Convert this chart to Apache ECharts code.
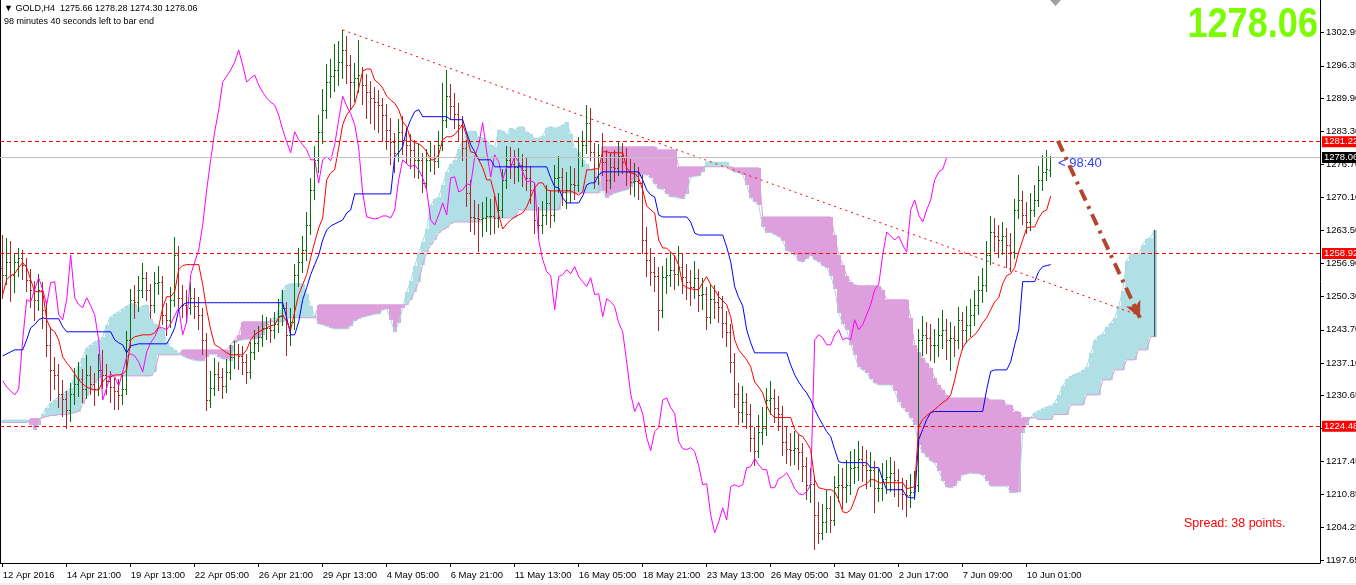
<!DOCTYPE html>
<html><head><meta charset="utf-8">
<script src="https://cdn.jsdelivr.net/npm/echarts@6/dist/echarts.min.js"></script>
<style>html,body{margin:0;padding:0;background:#fff;overflow:hidden}#c{width:1356px;height:585px}</style>
</head><body><div id="c"></div>
<script>
// ---------- DATA (GOLD, H4) ----------
const timeTickBars = [0,16,32,48,64,80,96,112,128,144,160,176,192,208,224,240,256];
const timeLabels = ['12 Apr 2016','14 Apr 21:00','19 Apr 13:00','22 Apr 05:00','26 Apr 21:00','29 Apr 13:00','4 May 05:00','6 May 21:00','11 May 13:00','16 May 05:00','18 May 21:00','23 May 13:00','26 May 05:00','31 May 01:00','2 Jun 17:00','7 Jun 09:00','10 Jun 01:00'];
const priceTicks = [1302.95,1296.35,1289.90,1283.30,1276.70,1270.10,1263.50,1256.90,1250.30,1243.70,1237.10,1230.65,1224.05,1217.45,1210.85,1204.25,1197.65];

const opens = [
1256.0,1254.7,1257.2,1254.7,1257.2,1258.1,1256.7,1253.7,1251.7,1249.7,
1251.7,1247.7,1240.7,1235.7,1234.7,1230.8,1229.8,1227.8,1230.8,1232.8,
1233.8,1231.8,1234.7,1232.8,1231.8,1235.7,1234.7,1233.5,1232.3,1231.5,
1230.7,1231.9,1241.7,1249.7,1249.3,1251.7,1254.1,1251.7,1248.7,1253.1,
1253.3,1246.7,1245.7,1249.7,1258.6,1250.1,1248.7,1248.1,1250.1,1248.5,
1246.7,1241.7,1229.7,1232.1,1234.9,1234.3,1232.5,1235.3,1238.3,1238.9,
1238.5,1237.3,1235.3,1239.3,1241.1,1242.3,1244.1,1244.1,1243.7,1244.9,
1246.5,1248.1,1242.7,1245.3,1254.7,1257.2,1259.6,1264.6,1271.6,1277.6,
1283.2,1287.5,1293.1,1294.3,1295.5,1297.1,1299.5,1296.5,1293.1,1293.9,
1294.5,1292.5,1291.1,1289.9,1289.1,1288.5,1286.5,1283.6,1281.2,1279.0,
1283.2,1281.6,1280.6,1279.6,1277.6,1277.6,1273.0,1277.6,1278.2,1277.4,
1280.6,1285.6,1290.3,1288.3,1286.8,1284.6,1280.0,1271.0,1266.2,1266.0,
1265.8,1266.0,1266.4,1266.4,1266.0,1267.6,1273.6,1277.6,1276.8,1276.2,
1276.6,1275.6,1274.0,1271.6,1265.6,1264.6,1266.6,1269.0,1266.6,1274.0,
1274.2,1271.2,1271.6,1272.8,1272.6,1278.2,1280.6,1285.0,1279.2,1274.2,
1278.6,1277.2,1273.6,1276.2,1276.0,1278.4,1277.2,1275.2,1273.2,1273.4,
1273.0,1261.6,1257.7,1255.3,1254.5,1247.7,1254.3,1254.7,1255.7,1254.9,
1256.3,1254.3,1253.3,1252.3,1254.1,1250.7,1250.9,1246.3,1249.9,1249.3,
1248.3,1245.1,1243.3,1237.3,1230.9,1227.4,1229.2,1227.0,1222.2,1219.6,
1223.4,1224.2,1229.7,1230.1,1228.2,1227.0,1221.4,1220.0,1219.8,1220.2,
1219.4,1216.6,1212.8,1213.0,1206.8,1203.2,1205.4,1208.2,1205.8,1212.4,
1212.8,1212.4,1212.8,1216.2,1216.4,1218.0,1216.8,1215.8,1215.8,1212.2,
1212.2,1214.0,1214.4,1215.2,1213.8,1212.0,1211.0,1210.8,1211.4,1212.8,
1241.7,1242.7,1242.1,1240.7,1240.7,1242.7,1243.7,1241.7,1242.1,1241.7,
1245.7,1243.7,1244.7,1246.7,1248.7,1251.7,1252.7,1258.6,1263.2,1262.4,
1261.6,1262.4,1260.6,1259.2,1267.6,1269.6,1266.6,1265.2,1267.6,1269.6,
1273.6,1275.2,1275.66];
const highs = [
1262.6,1262.0,1261.5,1259.0,1260.1,1259.6,1258.0,1255.8,1253.5,1254.9,
1253.2,1249.5,1244.2,1238.3,1236.8,1233.7,1231.4,1233.1,1236.0,1237.3,
1235.9,1238.6,1236.5,1235.0,1238.9,1239.6,1236.9,1235.4,1234.1,1233.8,
1234.6,1243.5,1251.8,1252.6,1254.4,1257.0,1255.3,1252.9,1255.2,1256.4,
1254.5,1249.0,1252.3,1262.2,1260.4,1252.7,1251.6,1253.3,1252.0,1250.2,
1248.1,1243.0,1235.5,1238.0,1237.2,1236.0,1237.9,1240.6,1241.5,1240.8,
1240.4,1238.9,1241.2,1243.6,1244.5,1246.7,1246.2,1246.0,1247.3,1249.8,
1251.6,1249.3,1248.0,1256.8,1260.1,1262.5,1267.1,1274.0,1280.3,1286.5,
1291.8,1296.7,1297.8,1300.6,1301.2,1303.5,1302.2,1298.6,1297.0,1301.5,
1296.2,1294.8,1293.4,1292.2,1291.6,1290.0,1288.8,1285.9,1283.0,1285.7,
1286.4,1284.0,1282.8,1281.5,1280.7,1279.0,1279.8,1281.3,1280.5,1283.3,
1292.9,1295.5,1292.7,1291.0,1288.9,1286.4,1281.6,1273.5,1269.5,1268.7,
1269.2,1270.1,1269.8,1270.3,1271.0,1275.8,1280.4,1280.2,1279.5,1279.9,
1278.8,1277.9,1276.3,1273.0,1268.2,1269.4,1272.5,1271.6,1276.5,1278.4,
1276.0,1275.1,1276.4,1275.9,1282.2,1283.4,1288.5,1287.9,1281.0,1280.8,
1282.9,1279.5,1279.0,1279.6,1281.2,1280.9,1280.0,1277.7,1276.9,1276.2,
1274.5,1264.2,1260.0,1258.3,1256.2,1256.5,1258.0,1259.3,1258.6,1260.5,
1258.9,1256.8,1255.7,1257.4,1255.9,1254.1,1252.3,1252.8,1252.6,1251.5,
1250.4,1247.5,1244.8,1239.1,1233.0,1232.5,1231.0,1228.9,1224.4,1226.8,
1228.3,1232.0,1233.4,1231.8,1230.4,1228.6,1224.5,1223.1,1223.6,1223.0,
1221.2,1218.4,1216.1,1214.5,1209.3,1208.9,1211.8,1210.5,1214.6,1216.9,
1216.2,1217.7,1219.6,1219.9,1221.5,1220.6,1219.8,1219.4,1217.6,1216.0,
1217.1,1217.8,1218.4,1217.6,1215.9,1214.2,1213.8,1215.0,1215.6,1243.8,
1246.5,1245.3,1244.9,1243.8,1246.0,1247.6,1245.9,1245.3,1244.5,1248.2,
1247.3,1248.5,1249.9,1251.6,1254.4,1256.1,1261.5,1266.3,1265.9,1264.5,
1265.1,1263.9,1263.0,1269.8,1274.5,1271.4,1269.2,1271.0,1272.6,1276.3,
1278.5,1279.6,1278.28];
const lows = [
1250.0,1252.8,1249.5,1251.3,1254.5,1253.8,1251.5,1248.2,1245.7,1247.6,
1244.0,1238.5,1229.6,1231.9,1228.3,1226.5,1224.2,1225.6,1228.9,1230.4,
1229.2,1230.0,1230.9,1228.7,1230.6,1232.0,1230.8,1229.2,1227.9,1228.0,
1228.8,1230.9,1240.3,1246.1,1247.5,1250.2,1249.6,1246.0,1247.3,1250.8,
1244.9,1242.6,1244.2,1248.4,1248.3,1246.2,1245.5,1246.8,1246.1,1243.8,
1238.9,1227.8,1228.4,1230.6,1231.7,1230.1,1231.2,1233.8,1236.0,1235.9,
1234.8,1233.0,1234.1,1237.8,1239.4,1240.5,1241.8,1241.2,1242.0,1243.2,
1244.7,1238.6,1240.6,1243.9,1252.4,1255.3,1257.7,1262.9,1269.8,1275.1,
1281.0,1285.9,1290.2,1291.4,1292.6,1294.0,1292.9,1287.7,1289.4,1291.1,
1288.7,1286.0,1284.9,1283.8,1283.2,1281.4,1279.7,1276.8,1275.2,1277.3,
1278.7,1277.0,1275.9,1274.2,1273.9,1271.2,1271.8,1275.4,1274.8,1276.1,
1279.5,1284.2,1285.7,1284.0,1281.3,1277.5,1268.4,1263.5,1262.8,1259.4,
1262.5,1263.4,1262.9,1263.1,1264.2,1266.1,1271.9,1274.0,1272.9,1273.3,
1272.4,1271.5,1268.9,1263.1,1262.0,1263.0,1264.8,1264.1,1265.3,1271.1,
1268.6,1268.0,1269.2,1269.7,1271.4,1276.3,1278.9,1277.6,1271.9,1272.8,
1274.6,1271.1,1272.0,1273.4,1274.5,1274.9,1272.6,1270.8,1270.4,1269.7,
1259.0,1254.4,1252.6,1251.4,1243.7,1246.2,1251.1,1252.4,1251.8,1252.7,
1251.0,1249.9,1248.6,1250.0,1247.5,1247.8,1243.9,1245.0,1246.1,1245.2,
1242.3,1240.4,1235.2,1228.4,1224.9,1225.3,1224.1,1219.5,1216.7,1218.4,
1221.0,1222.8,1226.9,1225.4,1223.7,1218.8,1217.2,1216.8,1217.0,1215.9,
1213.5,1210.0,1209.4,1200.0,1201.1,1201.9,1203.3,1203.4,1204.7,1209.6,
1208.1,1209.3,1211.0,1213.1,1213.8,1213.6,1212.2,1212.5,1207.4,1209.5,
1209.8,1211.1,1211.6,1210.5,1208.6,1207.9,1206.5,1208.3,1209.9,1211.6,
1238.6,1239.0,1237.7,1237.2,1238.5,1240.1,1237.8,1235.6,1238.4,1240.0,
1239.9,1241.3,1242.5,1244.6,1246.9,1249.3,1251.4,1256.8,1259.4,1258.3,
1258.9,1256.2,1255.5,1258.0,1265.9,1264.7,1263.0,1263.6,1266.4,1268.4,
1271.6,1273.5,1274.30];
const closes = [
1254.7,1257.2,1254.7,1257.2,1258.1,1256.7,1253.7,1251.7,1249.7,1251.7,
1247.7,1240.7,1235.7,1234.7,1230.8,1229.8,1227.8,1230.8,1232.8,1233.8,
1231.8,1234.7,1232.8,1231.8,1235.7,1234.7,1233.5,1232.3,1231.5,1230.7,
1231.9,1241.7,1249.7,1249.3,1251.7,1254.1,1251.7,1248.7,1253.1,1253.3,
1246.7,1245.7,1249.7,1258.6,1250.1,1248.7,1248.1,1250.1,1248.5,1246.7,
1241.7,1229.7,1232.1,1234.9,1234.3,1232.5,1235.3,1238.3,1238.9,1238.5,
1237.3,1235.3,1239.3,1241.1,1242.3,1244.1,1244.1,1243.7,1244.9,1246.5,
1248.1,1242.7,1245.3,1254.7,1257.2,1259.6,1264.6,1271.6,1277.6,1283.2,
1287.5,1293.1,1294.3,1295.5,1297.1,1299.5,1296.5,1293.1,1293.9,1294.5,
1292.5,1291.1,1289.9,1289.1,1288.5,1286.5,1283.6,1281.2,1279.0,1283.2,
1281.6,1280.6,1279.6,1277.6,1277.6,1273.0,1277.6,1278.2,1277.4,1280.6,
1285.6,1290.3,1288.3,1286.8,1284.6,1280.0,1271.0,1266.2,1266.0,1265.8,
1266.0,1266.4,1266.4,1266.0,1267.6,1273.6,1277.6,1276.8,1276.2,1276.6,
1275.6,1274.0,1271.6,1265.6,1264.6,1266.6,1269.0,1266.6,1274.0,1274.2,
1271.2,1271.6,1272.8,1272.6,1278.2,1280.6,1285.0,1279.2,1274.2,1278.6,
1277.2,1273.6,1276.2,1276.0,1278.4,1277.2,1275.2,1273.2,1273.4,1273.0,
1261.6,1257.7,1255.3,1254.5,1247.7,1254.3,1254.7,1255.7,1254.9,1256.3,
1254.3,1253.3,1252.3,1254.1,1250.7,1250.9,1246.3,1249.9,1249.3,1248.3,
1245.1,1243.3,1237.3,1230.9,1227.4,1229.2,1227.0,1222.2,1219.6,1223.4,
1224.2,1229.7,1230.1,1228.2,1227.0,1221.4,1220.0,1219.8,1220.2,1219.4,
1216.6,1212.8,1213.0,1206.8,1203.2,1205.4,1208.2,1205.8,1212.4,1212.8,
1212.4,1212.8,1216.2,1216.4,1218.0,1216.8,1215.8,1215.8,1212.2,1212.2,
1214.0,1214.4,1215.2,1213.8,1212.0,1211.0,1210.8,1211.4,1212.8,1241.7,
1242.7,1242.1,1240.7,1240.7,1242.7,1243.7,1241.7,1242.1,1241.7,1245.7,
1243.7,1244.7,1246.7,1248.7,1251.7,1252.7,1258.6,1263.2,1262.4,1261.6,
1262.4,1260.6,1259.2,1267.6,1269.6,1266.6,1265.2,1267.6,1269.6,1273.6,
1275.2,1275.7,1278.06];

const tenkan = [
1250.7,1253.7,1254.5,1254.9,1256.1,1257.1,1256.1,1253.7,1251.3,1251.3,
1251.3,1245.7,1243.9,1243.3,1241.7,1238.3,1237.1,1236.1,1234.9,1233.7,
1232.9,1232.3,1231.9,1231.7,1231.7,1233.3,1234.3,1234.3,1234.7,1234.7,
1234.9,1235.7,1241.7,1242.3,1242.5,1242.7,1242.7,1242.7,1243.1,1244.3,
1248.1,1250.3,1250.3,1251.3,1255.7,1256.5,1256.7,1256.7,1256.7,1256.7,
1252.7,1247.7,1243.7,1240.7,1240.3,1239.7,1239.1,1238.7,1238.7,1238.7,
1238.7,1239.7,1241.7,1242.7,1243.3,1243.7,1244.1,1244.5,1244.7,1246.1,
1246.7,1245.3,1243.7,1247.3,1250.7,1252.7,1254.7,1258.1,1261.2,1264.0,
1266.0,1273.6,1275.0,1275.6,1280.0,1284.6,1286.6,1287.6,1288.7,1291.9,
1295.3,1295.7,1295.7,1293.5,1292.9,1291.9,1290.3,1289.5,1288.9,1287.6,
1285.2,1284.2,1281.6,1281.0,1280.8,1280.2,1279.2,1277.6,1277.6,1278.6,
1281.6,1282.2,1282.2,1282.6,1283.6,1284.6,1282.4,1279.2,1279.0,1277.6,
1276.0,1273.6,1273.6,1270.6,1266.6,1263.8,1264.8,1265.6,1266.2,1266.6,
1267.0,1268.2,1270.2,1272.0,1273.0,1273.0,1271.6,1271.4,1271.4,1271.4,
1271.4,1271.4,1271.4,1271.0,1270.6,1271.2,1275.6,1275.6,1275.8,1275.8,
1279.2,1279.2,1279.0,1279.0,1279.0,1279.0,1276.0,1275.0,1274.8,1274.0,
1271.6,1268.4,1267.6,1267.0,1261.6,1260.0,1260.0,1259.2,1258.4,1256.6,
1252.7,1252.1,1251.9,1251.7,1251.7,1253.1,1254.3,1252.7,1251.7,1250.3,
1249.5,1248.7,1246.3,1241.7,1239.7,1238.7,1237.7,1236.3,1233.3,1232.3,
1231.1,1228.5,1227.0,1226.2,1226.2,1226.2,1226.2,1226.2,1223.8,1222.8,
1222.4,1221.2,1219.8,1213.8,1212.2,1212.0,1211.8,1211.8,1211.4,1209.8,
1207.4,1207.2,1207.8,1209.8,1212.2,1212.6,1213.0,1213.8,1213.8,1213.2,
1213.2,1213.2,1213.2,1213.2,1213.2,1213.2,1212.0,1212.2,1212.4,1224.4,
1225.8,1226.6,1227.2,1227.8,1228.5,1229.2,1229.7,1230.7,1233.7,1237.3,
1240.1,1241.3,1242.1,1242.7,1243.7,1245.1,1246.1,1247.7,1249.3,1250.1,
1252.9,1254.5,1254.9,1256.1,1259.2,1261.6,1264.0,1264.2,1264.2,1266.0,
1267.2,1267.6,1270.4];
const kijun = [
1238.5,1238.9,1239.3,1239.7,1239.7,1239.7,1241.7,1244.1,1244.7,1245.7,
1246.1,1245.9,1245.9,1245.9,1245.9,1244.3,1243.3,1243.3,1243.3,1243.3,
1243.3,1243.3,1243.3,1243.3,1243.3,1243.3,1243.3,1243.3,1241.7,1241.1,
1240.7,1239.1,1240.5,1240.7,1240.9,1240.9,1240.9,1240.9,1240.9,1240.9,
1240.9,1240.9,1242.3,1244.1,1247.7,1248.7,1249.1,1249.1,1249.1,1249.1,
1249.1,1249.1,1249.1,1249.1,1249.1,1249.1,1249.1,1249.1,1249.1,1249.1,
1249.1,1249.1,1249.1,1249.1,1249.1,1249.1,1249.1,1249.1,1249.1,1249.1,
1249.1,1246.1,1242.7,1242.7,1245.3,1249.7,1252.1,1254.7,1256.7,1258.6,
1261.6,1263.6,1264.4,1264.8,1265.2,1265.6,1267.0,1267.6,1270.8,1270.8,
1270.8,1270.8,1270.8,1270.8,1270.8,1270.8,1270.8,1270.8,1278.2,1279.0,
1280.2,1283.6,1285.6,1287.2,1287.6,1286.2,1286.2,1286.2,1286.2,1286.2,
1286.2,1286.2,1285.6,1285.6,1285.6,1285.6,1283.0,1280.6,1279.2,1277.6,
1277.6,1277.6,1277.6,1276.2,1276.2,1276.2,1276.2,1276.2,1276.2,1276.2,
1276.2,1276.2,1276.2,1276.2,1276.2,1276.2,1276.2,1274.0,1272.2,1272.0,
1270.0,1269.0,1269.0,1269.0,1269.0,1270.4,1272.6,1273.0,1273.0,1274.6,
1275.2,1275.2,1275.2,1275.2,1275.2,1275.2,1275.2,1275.2,1275.2,1275.2,
1273.6,1271.6,1270.6,1270.2,1266.6,1266.2,1266.2,1266.2,1266.2,1266.2,
1266.2,1266.2,1265.2,1263.0,1262.6,1262.6,1262.6,1262.6,1262.6,1262.6,
1262.6,1260.2,1257.3,1252.3,1250.1,1248.5,1243.7,1241.1,1239.1,1239.1,
1239.1,1239.1,1239.1,1239.1,1239.1,1239.1,1239.1,1236.7,1234.7,1233.3,
1232.1,1231.1,1229.7,1227.8,1226.2,1224.8,1223.4,1222.4,1219.8,1217.4,
1217.2,1217.2,1217.2,1217.2,1217.2,1217.2,1217.2,1216.2,1216.2,1216.2,
1213.8,1211.8,1211.8,1211.8,1211.8,1211.8,1210.4,1210.2,1210.2,1221.8,
1223.8,1225.8,1227.2,1227.4,1227.4,1227.4,1227.4,1227.4,1227.4,1227.4,
1227.4,1227.4,1227.4,1227.4,1227.4,1227.4,1231.8,1235.4,1235.7,1235.7,
1235.7,1235.7,1237.3,1240.7,1243.7,1253.3,1253.3,1253.3,1253.3,1255.3,
1256.3,1256.5,1256.7];
const spanA = [
1225.7,1225.7,1225.7,1225.7,1225.7,1225.7,1225.7,1224.8,1223.8,1224.8,
1227.0,1228.2,1229.0,1229.7,1230.3,1230.9,1231.5,1232.1,1234.7,1236.5,
1238.1,1240.1,1240.7,1241.3,1241.7,1242.3,1244.6,1246.3,1246.9,1247.3,
1247.9,1248.4,1248.9,1248.9,1248.0,1248.5,1248.7,1245.8,1244.9,1244.6,
1243.8,1241.3,1240.2,1239.7,1239.1,1238.5,1238.1,1237.8,1237.6,1237.5,
1237.5,1238.3,1238.8,1238.8,1238.2,1237.9,1237.8,1237.4,1241.1,1241.5,
1241.7,1241.8,1241.8,1241.8,1242.0,1242.6,1244.5,1245.6,1246.3,1247.7,
1251.7,1252.6,1252.9,1252.9,1252.9,1252.9,1250.9,1248.4,1246.4,1244.9,
1244.7,1244.4,1244.1,1243.9,1243.9,1243.9,1243.9,1244.4,1245.4,1245.9,
1246.2,1246.4,1246.6,1246.8,1246.9,1247.6,1247.9,1245.7,1243.2,1245.0,
1248.0,1251.2,1253.4,1256.4,1259.0,1261.3,1263.8,1268.6,1269.7,1270.2,
1272.6,1275.1,1276.8,1277.6,1279.8,1281.4,1283.1,1283.3,1283.3,1282.2,
1281.9,1281.4,1280.6,1280.2,1283.6,1283.3,1282.7,1283.9,1283.6,1284.1,
1284.2,1283.2,1282.7,1281.9,1281.9,1282.4,1283.9,1284.2,1283.9,1284.1,
1284.6,1285.1,1282.7,1279.9,1279.1,1277.6,1276.8,1275.6,1275.6,1273.4,
1271.4,1270.0,1270.5,1270.9,1271.2,1271.4,1271.6,1272.2,1273.2,1274.1,
1274.6,1274.6,1273.9,1272.7,1271.8,1271.7,1270.7,1270.2,1270.2,1270.0,
1269.8,1270.8,1274.1,1274.3,1274.4,1275.2,1277.2,1277.2,1277.1,1277.1,
1277.1,1277.1,1275.6,1275.1,1275.0,1274.6,1272.6,1270.0,1269.1,1268.6,
1264.1,1263.1,1263.1,1262.7,1262.3,1261.4,1259.5,1259.2,1258.6,1257.4,
1257.2,1257.9,1258.5,1257.7,1257.2,1256.5,1256.1,1254.5,1251.8,1247.0,
1244.9,1243.6,1240.7,1238.7,1236.2,1235.7,1235.1,1233.8,1233.1,1232.7,
1232.7,1232.7,1232.7,1231.5,1229.3,1228.1,1227.3,1226.2,1224.8,1220.8,
1219.2,1218.4,1217.6,1217.1,1215.6,1213.6,1212.3,1212.2,1212.5,1213.5,
1214.7,1214.9,1215.1,1215.0,1215.0,1214.7,1213.5,1212.5,1212.5,1212.5,
1212.5,1212.5,1211.2,1211.2,1211.3,1223.1,1224.8,1226.2,1227.2,1227.6,
1228.0,1228.3,1228.6,1229.1,1230.6,1232.4,1233.8,1234.4,1234.8,1235.1,
1235.6,1236.3,1239.0,1241.6,1242.5,1242.9,1244.3,1245.1,1246.1,1248.4,
1251.5,1257.5,1258.7,1258.8,1258.8,1260.7,1261.8,1262.1,1263.6];
const spanB = [
1225.2,1225.2,1225.2,1225.2,1225.2,1225.2,1225.2,1226.0,1226.0,1226.0,
1226.2,1226.4,1226.6,1226.6,1226.8,1226.8,1226.8,1227.0,1227.2,1227.4,
1228.8,1230.5,1231.7,1233.1,1234.1,1234.5,1234.5,1234.5,1234.5,1234.5,
1234.5,1234.5,1234.5,1234.5,1234.5,1234.5,1234.5,1234.5,1235.3,1238.7,
1238.7,1238.7,1238.7,1238.7,1238.7,1239.7,1239.7,1239.7,1239.7,1239.7,
1239.7,1239.7,1239.7,1239.7,1239.7,1239.7,1239.7,1240.7,1241.7,1242.7,
1245.3,1245.3,1245.3,1245.3,1245.3,1245.3,1245.3,1245.3,1245.3,1245.3,
1245.3,1246.1,1246.1,1246.1,1246.1,1246.1,1246.1,1246.1,1246.1,1248.7,
1248.7,1248.7,1248.7,1248.7,1248.7,1248.7,1248.7,1248.7,1248.7,1248.7,
1248.7,1248.7,1248.7,1248.7,1248.7,1248.7,1248.7,1248.7,1248.7,1248.7,
1248.7,1248.7,1249.7,1251.3,1253.3,1256.7,1259.2,1260.6,1261.6,1263.0,
1263.6,1264.0,1264.8,1265.2,1265.2,1265.2,1265.2,1265.2,1265.2,1265.2,
1266.0,1266.0,1266.0,1266.0,1266.0,1266.0,1266.0,1266.0,1266.0,1267.6,
1267.6,1267.6,1267.6,1267.6,1267.6,1267.6,1267.6,1267.6,1267.6,1267.6,
1271.0,1271.0,1271.0,1271.0,1271.0,1271.0,1271.0,1271.0,1271.0,1271.0,
1280.2,1280.2,1280.2,1280.2,1280.2,1280.2,1280.2,1280.2,1280.2,1280.2,
1280.2,1280.2,1280.2,1280.2,1279.6,1279.6,1279.6,1279.6,1279.6,1276.2,
1276.2,1276.2,1276.2,1276.2,1276.2,1276.2,1276.2,1276.2,1276.2,1276.2,
1276.2,1276.2,1276.2,1276.0,1276.0,1276.0,1276.0,1276.0,1276.0,1276.0,
1266.2,1266.2,1266.2,1266.2,1266.2,1266.2,1266.2,1266.2,1266.2,1266.2,
1266.2,1266.2,1266.2,1266.2,1266.2,1266.2,1266.2,1266.2,1262.6,1258.6,
1256.7,1254.5,1253.3,1252.7,1252.5,1252.5,1252.5,1252.5,1252.5,1252.5,
1251.7,1249.7,1249.7,1249.7,1249.7,1249.7,1249.7,1246.1,1240.7,1239.3,
1238.1,1237.1,1236.1,1234.1,1232.7,1231.7,1230.7,1230.1,1230.1,1230.1,
1230.1,1230.1,1230.1,1230.1,1230.1,1230.1,1230.1,1229.7,1229.7,1229.7,
1229.7,1228.7,1228.7,1227.4,1227.4,1226.2,1226.2,1226.2,1226.2,1225.8,
1225.8,1225.8,1225.8,1226.8,1226.8,1226.8,1226.8,1228.7,1228.7,1228.7,
1228.7,1230.7,1230.7,1230.7,1230.7,1233.7,1233.7,1233.7,1235.7,1235.7,
1235.7,1237.7,1237.7,1237.7,1239.7,1239.7,1239.7,1242.3,1242.3];
const chikouShift = 26;
const levelLines = [1281.22, 1258.92, 1224.48];
const bidPrice = 1278.06;
const trendLine = [[85, 1303.5], [285, 1246.3]];
const forecastArrow = [[263.8, 1281.4], [284.3, 1246.1]];

// ---------- CHART ----------
const FONT = '"Liberation Sans", "DejaVu Sans", Arial, sans-serif';
const X_MIN = -0.675, X_MAX = 329.325, Y_MIN = 1197.19, Y_MAX = 1309.47;
const UP = '#0a6e0a', DOWN = '#a52a2a';
const chart = echarts.init(document.getElementById('c'), null, {renderer: 'canvas'});

const barData = opens.map((o, i) => [i, o, highs[i], lows[i], closes[i]]);
const cloudData = spanA.map((a, i) => [i, a, spanB[i]]);
const chikouData = closes.slice(chikouShift).map((c, i) => [i, c]);
const lastCloud = spanA.length - 1;
const cloudEdge = [[lastCloud, spanA[lastCloud]], [lastCloud, spanB[lastCloud]]];

function renderBar(params, api) {
  const i = api.value(0);
  const o = api.value(1), h = api.value(2), l = api.value(3), c = api.value(4);
  const ph = api.coord([i, h]), pl = api.coord([i, l]);
  const po = api.coord([i, o]), pc = api.coord([i, c]);
  const X = Math.floor(ph[0]);
  const col = c >= o ? UP : DOWN;
  const yh = Math.round(ph[1]), yl = Math.round(pl[1]);
  return {type: 'group', children: [
    {type: 'rect', shape: {x: X, y: yh, width: 1, height: Math.max(1, yl - yh + 1)}, style: {fill: col}},
    {type: 'rect', shape: {x: X - 1, y: Math.round(po[1]), width: 1, height: 1}, style: {fill: col}},
    {type: 'rect', shape: {x: X + 1, y: Math.round(pc[1]), width: 1, height: 1}, style: {fill: col}}
  ]};
}
function renderCloud(params, api) {
  const i = api.value(0), a = api.value(1), b = api.value(2);
  const p1 = api.coord([i - 0.5, a]), p2 = api.coord([i + 0.5, b]);
  const x1 = Math.round(p1[0]), x2 = Math.round(p2[0]);
  const y1 = Math.min(p1[1], p2[1]), y2 = Math.max(p1[1], p2[1]);
  return {type: 'rect', shape: {x: x1, y: Math.round(y1), width: x2 - x1, height: Math.max(1, Math.round(y2) - Math.round(y1))},
    style: {fill: a >= b ? '#b0e0e6' : '#dda0dd'}};
}
function lvlLabel(bg) {
  return {show: true, position: 'end', distance: 2, color: '#ffffff', backgroundColor: bg,
    padding: [1, 3, 0, 2], fontSize: 9.5, fontFamily: FONT, formatter: p => Number(p.value).toFixed(2)};
}

const option = {
  animation: false,
  backgroundColor: '#ffffff',
  grid: {left: 0, top: 0, width: 1320, height: 563, show: false, containLabel: false, outerBoundsMode: 'none'},
  xAxis: {
    type: 'value', min: X_MIN, max: X_MAX, position: 'bottom',
    axisLine: {show: true, onZero: false, lineStyle: {color: '#000', width: 1}},
    axisTick: {show: true, length: 4, customValues: timeTickBars, lineStyle: {color: '#000'}},
    axisLabel: {show: true, customValues: timeTickBars, align: 'left', margin: 7, color: '#000',
      fontSize: 9.5, fontFamily: FONT, formatter: v => timeLabels[timeTickBars.indexOf(Math.round(v))] || ''},
    splitLine: {show: false}
  },
  yAxis: {
    type: 'value', min: Y_MIN, max: Y_MAX, position: 'right',
    axisLine: {show: true, onZero: false, lineStyle: {color: '#000', width: 1}},
    axisTick: {show: true, length: 4, customValues: priceTicks, lineStyle: {color: '#000'}},
    axisLabel: {show: true, customValues: priceTicks, margin: 6, color: '#000', fontSize: 9.5, fontFamily: FONT,
      formatter: v => Number(v).toFixed(2)},
    splitLine: {show: false}
  },
  series: [
    {type: 'custom', name: 'cloud', renderItem: renderCloud, data: cloudData, z: 1, clip: true,
      encode: {x: 0, y: [1, 2]}, silent: true},
    {type: 'line', name: 'spanA', data: spanA.map((v, i) => [i, v]), showSymbol: false, symbol: 'none', z: 1,
      lineStyle: {color: '#a9dbe3', width: 1}, silent: true},
    {type: 'line', name: 'spanB', data: spanB.map((v, i) => [i, v]), showSymbol: false, symbol: 'none', z: 1,
      lineStyle: {color: '#d9a0d9', width: 1}, silent: true},
    {type: 'line', name: 'cloudEnd', data: cloudEdge, showSymbol: false, symbol: 'none', z: 1,
      lineStyle: {color: '#333333', width: 1}, silent: true},
    {type: 'line', name: 'levels', data: [], z: 2, silent: true,
      markLine: {silent: true, symbol: ['none', 'none'], animation: false, data: [
        {yAxis: bidPrice, lineStyle: {color: '#c0c0c0', type: 'solid', width: 1}, label: lvlLabel('#000000')},
        {yAxis: levelLines[0], lineStyle: {color: '#ff0000', type: [4, 3], width: 1}, label: lvlLabel('#ff0000')},
        {yAxis: levelLines[1], lineStyle: {color: '#ff0000', type: [4, 3], width: 1}, label: lvlLabel('#ff0000')},
        {yAxis: levelLines[2], lineStyle: {color: '#ff0000', type: [4, 3], width: 1}, label: lvlLabel('#ff0000')}
      ]}},
    {type: 'line', name: 'trend', data: trendLine, showSymbol: false, symbol: 'none', z: 2,
      lineStyle: {color: '#ff0000', width: 1, type: [2, 4]}, silent: true},
    {type: 'custom', name: 'bars', renderItem: renderBar, data: barData, z: 3, clip: true,
      encode: {x: 0, y: [1, 2, 3, 4]}, silent: true},
    {type: 'line', name: 'chikou', data: chikouData, showSymbol: false, symbol: 'none', z: 4,
      lineStyle: {color: '#ff00ff', width: 1}, silent: true},
    {type: 'line', name: 'kijun', data: kijun.map((v, i) => [i, v]), showSymbol: false, symbol: 'none', z: 4,
      lineStyle: {color: '#0000ff', width: 1}, silent: true},
    {type: 'line', name: 'tenkan', data: tenkan.map((v, i) => [i, v]), showSymbol: false, symbol: 'none', z: 4,
      lineStyle: {color: '#ff0000', width: 1}, silent: true},
    {type: 'line', name: 'arrow', data: [], z: 5, silent: true,
      markLine: {silent: true, animation: false, symbol: ['none', 'arrow'], symbolSize: [12, 16],
        label: {show: false},
        lineStyle: {color: '#b5462d', width: 4, type: [12, 6, 3, 6]},
        data: [[{coord: forecastArrow[0]}, {coord: forecastArrow[1]}]]}}
  ],
  graphic: [
    {type: 'line', shape: {x1: 0.5, y1: 0, x2: 0.5, y2: 563}, style: {stroke: '#000', lineWidth: 1}, silent: true},
    {type: 'rect', shape: {x: 0, y: 583, width: 1356, height: 2}, style: {fill: '#f0f0f0'}, silent: true},
    {type: 'polygon', shape: {points: [[1050, 0], [1061, 0], [1055.5, 6]]}, style: {fill: '#a0a0a0'}, silent: true},
    {type: 'text', x: 4, y: 8.5, silent: true, style: {text: '▼ GOLD,H4  1275.66 1278.28 1274.30 1278.06',
      font: '9px ' + FONT, fill: '#000', verticalAlign: 'middle'}},
    {type: 'text', x: 4, y: 21.5, silent: true, style: {text: '98 minutes 40 seconds left to bar end',
      font: '9px ' + FONT, fill: '#000', verticalAlign: 'middle'}},
    {type: 'text', x: 1318, y: 25, scaleX: 0.86, silent: true, style: {text: '1278.06',
      font: 'bold 42px ' + FONT, fill: '#7cfc00', align: 'right', verticalAlign: 'middle'}},
    {type: 'text', x: 1184, y: 524, silent: true, style: {text: 'Spread: 38 points.',
      font: '12.5px ' + FONT, fill: '#ff0000', verticalAlign: 'middle'}},
    {type: 'text', x: 1058, y: 163, silent: true, style: {text: '< 98:40',
      font: '13px ' + FONT, fill: '#2a3cff', verticalAlign: 'middle'}}
  ]
};
chart.setOption(option);
</script>
</body></html>
